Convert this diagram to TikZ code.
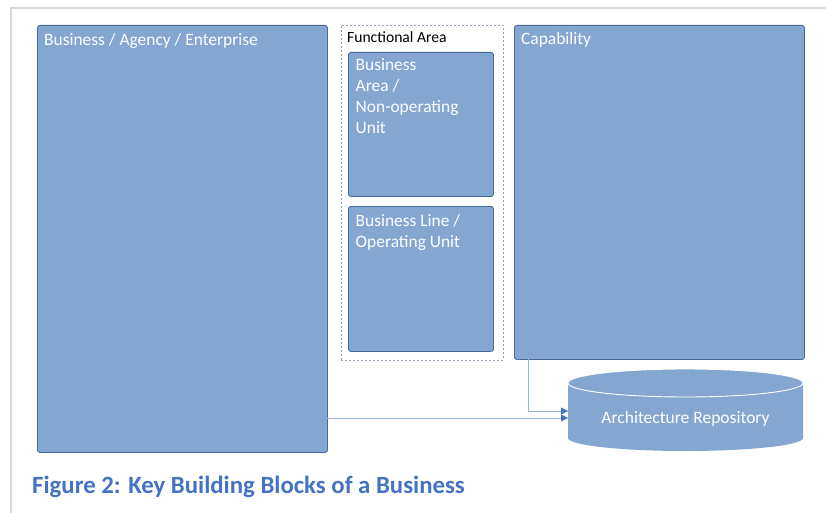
\documentclass[tikz,border=0pt]{standalone}
\usepackage{fontspec}
\setmainfont{Carlito}
\usetikzlibrary{arrows.meta}
\definecolor{boxfill}{RGB}{132,167,209}
\definecolor{boxline}{RGB}{70,105,150}
\definecolor{arrowline}{RGB}{150,180,220}
\definecolor{tipcol}{RGB}{68,114,196}
\definecolor{framegray}{RGB}{217,217,217}
\definecolor{dashcol}{RGB}{150,165,190}
\definecolor{captioncol}{RGB}{68,114,196}
\begin{document}
\begin{tikzpicture}[x=1pt,y=-1pt,
  blockbox/.style={draw=boxline, line width=0.9pt, fill=boxfill, rounded corners=2.5pt, inner sep=0pt, anchor=north west},
  boxtext/.style={text=white, font=\fontsize{17.4}{21}\selectfont, anchor=base west, inner sep=0pt, align=left},
  conn/.style={draw=arrowline, line width=0.8pt, -{Triangle[length=7pt,width=7pt,fill=tipcol,color=tipcol]}}
]
\useasboundingbox (0,0) rectangle (826,513);
\draw[framegray, line width=1.5pt] (11,513) -- (11,8) -- (826,8);

% Business / Agency / Enterprise
\node[blockbox, minimum width=290pt, minimum height=427pt] (biz) at (37,25) {};
\node[boxtext] (biztext) at (44,46) {Business / Agency / Enterprise};

% Functional area
\node[draw=dashcol, line width=0.8pt, dash pattern=on 2pt off 2pt, inner sep=0pt, anchor=north west,
      minimum width=162pt, minimum height=335pt] (func) at (341,25) {};
\node[anchor=base west, inner sep=0pt, font=\fontsize{15.6}{18}\selectfont] (functext) at (347,43) {Functional Area};

% base anchor of a multi-line node lies on its last line
\node[blockbox, minimum width=145pt, minimum height=144pt] (barea) at (348,52) {};
\node[boxtext] (bareatext) at (355.5,134) {Business\\Area /\\Non-operating\\Unit};

\node[blockbox, minimum width=145pt, minimum height=145pt] (bline) at (348,206) {};
\node[boxtext] (blinetext) at (355.5,247.5) {Business Line /\\Operating Unit};

% Capability
\node[blockbox, minimum width=290pt, minimum height=334pt] (cap) at (514,25) {};
\node[boxtext] (captext) at (521,45) {Capability};

% Architecture Repository cylinder
\fill[boxfill] (568,383) -- (568,438) arc[start angle=180,end angle=360,x radius=117.5pt,y radius=13pt]
  -- (803,383) arc[start angle=0,end angle=180,x radius=117.5pt,y radius=14pt] -- cycle;
\draw[white, line width=0.9pt] (685.5,383) ellipse[x radius=117.5pt, y radius=14pt];
\node[text=white, font=\fontsize{17.5}{20}\selectfont, anchor=base, inner sep=0pt] (repo) at (685.5,423) {Architecture Repository};

\coordinate (capout) at (528,359);
\coordinate (repoin1) at (568,411);
\coordinate (repoin2) at (568,418);
\coordinate (bizout) at (327,418);
\draw[conn] (capout) |- (repoin1);
\draw[conn] (bizout) -- (repoin2);

% Caption
\node[anchor=base west, inner sep=0pt, text=captioncol, font=\bfseries\fontsize{24.8}{28}\selectfont] (caption) at (32,493) {Figure 2: Key Building Blocks of a Business};
\end{tikzpicture}
\end{document}
